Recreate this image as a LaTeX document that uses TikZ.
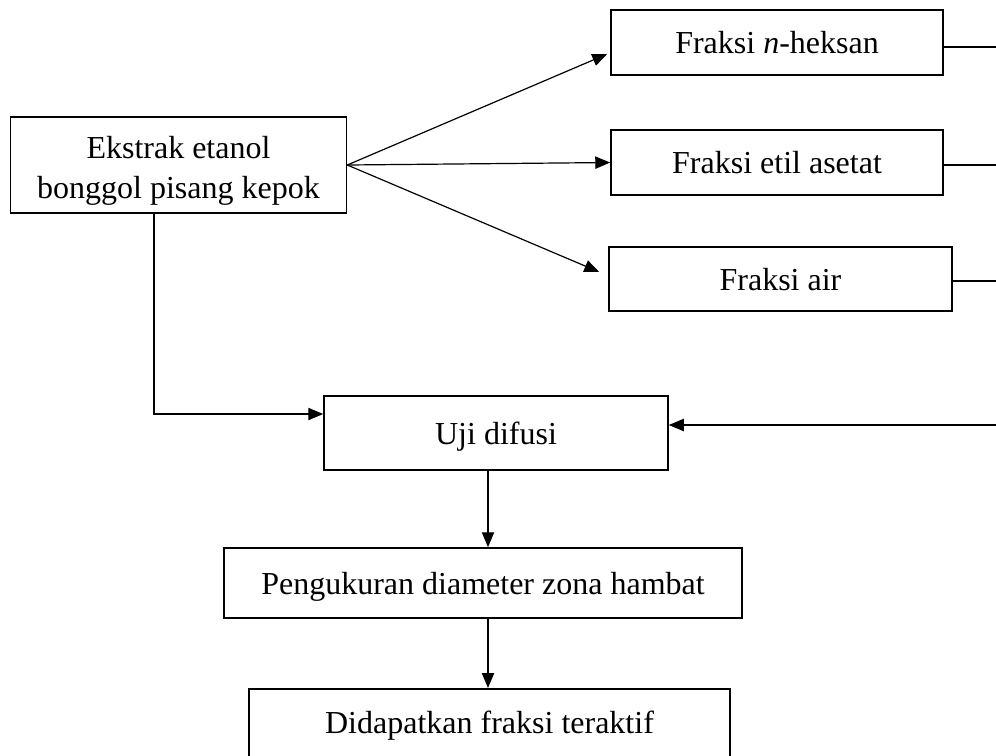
\documentclass[tikz,border=0pt]{standalone}
\usepackage{fontspec}
\setmainfont{Liberation Serif}
\usetikzlibrary{arrows.meta,calc}
\begin{document}
\begin{tikzpicture}[x=0.375pt,y=-0.375pt,>={Triangle[length=5.6pt,width=4.6pt]},
  box/.style={draw,line width=0.6pt,inner sep=0pt,font=\fontsize{12}{15}\selectfont,align=center},
  oneline/.style={text height=8.4pt,text depth=0pt},
  link/.style={line width=0.45pt}]
\path[use as bounding box,clip] (0,0) rectangle (996,755);
\node[box,minimum width=126pt,minimum height=36pt] (ekstrak) at (178.5,165) {\rule{0pt}{12.7pt}Ekstrak etanol\\bonggol pisang kepok};
\node[box,oneline,minimum width=124.5pt,minimum height=24.4pt] (heksan) at (777,42.5) {Fraksi \textit{n}-heksan};
\node[box,oneline,minimum width=124.5pt,minimum height=24.4pt] (etil) at (777,162.5) {Fraksi etil asetat};
\node[box,oneline,minimum width=128.6pt,minimum height=24pt] (air) at (780.5,279) {Fraksi air};
\node[box,oneline,minimum width=129pt,minimum height=27.75pt] (uji) at (496,433) {Uji difusi};
\node[box,oneline,minimum width=194.25pt,minimum height=26.25pt] (ukur) at (483,583) {Pengukuran diameter zona hambat};
\node[box,text height=16.9pt,text depth=16pt,minimum width=180.4pt,anchor=north] (dapat) at (489.5,688) {Didapatkan fraksi teraktif};
\coordinate (rim1) at (996,47);
\coordinate (rim2) at (996,165);
\coordinate (rim3) at (996,281);
\coordinate (rim4) at (996,425);
\coordinate (bend) at (154,414);
\coordinate (drop) at (488,0);
\draw[link,->] (ekstrak.east) -- ($(heksan.west)+(-3,11.5)$);
\draw[link,->] (ekstrak.east) -- (etil.west);
\draw[link,->] (ekstrak.east) -- ($(air.west)+(-9,-7)$);
\draw[link] (heksan.east |- rim1) -- (rim1);
\draw[link] (etil.east |- rim2) -- (rim2);
\draw[link] (air.east |- rim3) -- (rim3);
\draw[link,->] (rim4) -- (uji.east |- rim4);
\draw[link,->] (ekstrak.south -| bend) |- (uji.west |- bend);
\draw[link,->] (uji.south -| drop) -- (ukur.north -| drop);
\draw[link,->] (ukur.south -| drop) -- (dapat.north -| drop);
\end{tikzpicture}
\end{document}
